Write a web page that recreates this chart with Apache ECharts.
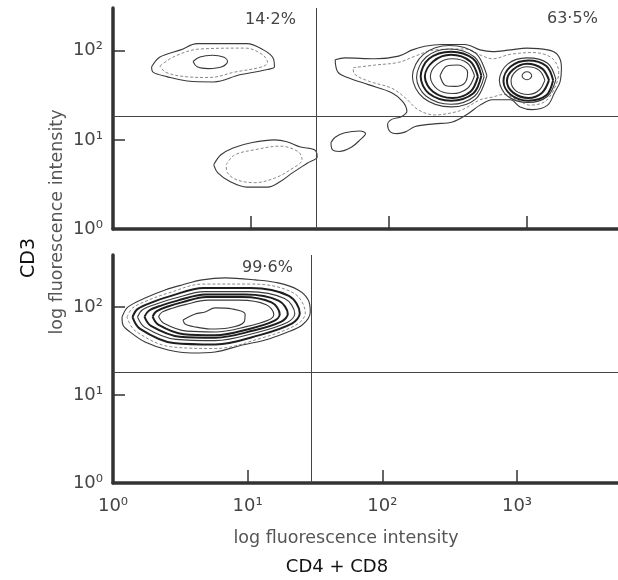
<!DOCTYPE html>
<html>
<head>
<meta charset="utf-8">
<script src="https://cdn.jsdelivr.net/npm/echarts@6/dist/echarts.min.js"></script>
<style>
  html, body { margin: 0; padding: 0; background: #fff; }
  #chart { width: 618px; height: 580px; }
</style>
</head>
<body>
<div id="chart"></div>
<script>
// every coordinate is in decades of log fluorescence (10^x)
const tickDecades = [0, 1, 2, 3]
const cd3Gate = 1.26      // horizontal cut, CD3
const cd48Gate = 1.47     // vertical cut, CD4 + CD8
const topPercents = ['14·2%', '63·5%']
const bottomPercents = ['99·6%']

// --- top panel: CD3-/+ thymocytes ---
const ulOuter = [[0.28,1.82],[0.34,1.93],[0.49,2.01],[0.61,2.08],[0.97,2.08],[1.09,2.01],[1.16,1.92],[1.17,1.82],[1.12,1.79],[0.92,1.73],[0.73,1.65],[0.54,1.66],[0.39,1.71],[0.29,1.76]]
const ulInner = [[0.34,1.83],[0.45,1.94],[0.63,2.02],[0.96,2.03],[1.08,1.96],[1.12,1.87],[1.08,1.82],[0.88,1.76],[0.70,1.70],[0.52,1.71],[0.38,1.76]]
const ulCore = [[0.58,1.88],[0.63,1.93],[0.72,1.95],[0.80,1.93],[0.83,1.88],[0.79,1.82],[0.69,1.80],[0.61,1.82]]

const llOuter = [[0.73,0.72],[0.78,0.83],[0.87,0.91],[1.01,0.97],[1.17,1.00],[1.26,0.98],[1.36,0.92],[1.46,0.89],[1.48,0.81],[1.41,0.74],[1.30,0.63],[1.21,0.53],[1.12,0.47],[0.97,0.47],[0.85,0.53],[0.76,0.63]]
const llInner = [[0.82,0.72],[0.88,0.83],[1.03,0.89],[1.21,0.93],[1.34,0.87],[1.37,0.78],[1.28,0.66],[1.17,0.57],[1.03,0.52],[0.90,0.55],[0.83,0.63]]
const lrSmall = [[1.58,0.97],[1.61,1.03],[1.68,1.08],[1.79,1.10],[1.83,1.07],[1.79,1.00],[1.73,0.92],[1.64,0.87],[1.59,0.89]]

const urOuter = [[1.61,1.90],[1.68,1.92],[1.90,1.91],[2.07,1.94],[2.17,2.01],[2.26,2.05],[2.38,2.07],[2.55,2.07],[2.66,2.01],[2.75,1.99],[2.88,2.01],[3.00,2.03],[3.15,2.01],[3.22,1.96],[3.25,1.82],[3.24,1.65],[3.20,1.53],[3.15,1.39],[3.04,1.34],[2.95,1.37],[2.88,1.45],[2.75,1.45],[2.66,1.39],[2.57,1.29],[2.46,1.20],[2.33,1.18],[2.19,1.15],[2.12,1.09],[2.06,1.07],[2.01,1.09],[1.99,1.17],[2.02,1.23],[2.09,1.26],[2.13,1.32],[2.10,1.43],[2.02,1.53],[1.85,1.62],[1.70,1.70],[1.63,1.76]]
const urInner = [[1.74,1.81],[1.90,1.84],[2.07,1.87],[2.19,1.94],[2.33,2.01],[2.55,2.02],[2.68,1.94],[2.75,1.91],[2.88,1.96],[3.04,1.98],[3.18,1.92],[3.23,1.76],[3.20,1.58],[3.13,1.43],[3.02,1.39],[2.93,1.45],[2.83,1.51],[2.75,1.48],[2.66,1.45],[2.57,1.37],[2.50,1.32],[2.33,1.28],[2.21,1.34],[2.12,1.47],[2.02,1.58],[1.85,1.66],[1.75,1.74]]

const cluster1A = [[2.71,1.72],[2.63,1.97],[2.44,2.06],[2.25,1.96],[2.17,1.71],[2.25,1.47],[2.45,1.37],[2.63,1.46]]
const cluster1B = [[2.69,1.71],[2.62,1.93],[2.44,2.02],[2.27,1.93],[2.20,1.70],[2.27,1.49],[2.45,1.40],[2.62,1.49]]
const cluster1C = [[2.67,1.72],[2.61,1.91],[2.45,1.99],[2.29,1.91],[2.23,1.71],[2.29,1.52],[2.45,1.44],[2.61,1.52]]
const cluster1D = [[2.645,1.71],[2.59,1.88],[2.45,1.955],[2.32,1.88],[2.26,1.71],[2.32,1.54],[2.46,1.47],[2.59,1.54]]
const cluster1E = [[2.62,1.72],[2.57,1.86],[2.46,1.91],[2.35,1.85],[2.30,1.71],[2.35,1.57],[2.46,1.52],[2.57,1.58]]
const cluster1Core = [[2.37,1.72],[2.42,1.83],[2.50,1.84],[2.57,1.76],[2.55,1.64],[2.48,1.60],[2.41,1.61]]

const cluster2A = [[3.21,1.68],[3.15,1.86],[3.00,1.92],[2.86,1.85],[2.80,1.67],[2.86,1.49],[3.01,1.42],[3.15,1.49]]
const cluster2B = [[3.19,1.67],[3.14,1.83],[3.01,1.89],[2.88,1.82],[2.83,1.66],[2.88,1.51],[3.01,1.44],[3.14,1.50]]
const cluster2C = [[3.16,1.67],[3.11,1.80],[3.00,1.855],[2.90,1.79],[2.855,1.66],[2.90,1.53],[3.01,1.47],[3.11,1.53]]
const cluster2D = [[3.13,1.67],[3.09,1.78],[3.00,1.82],[2.92,1.77],[2.885,1.66],[2.92,1.55],[3.01,1.51],[3.09,1.56]]
const cluster2Core = [[3.035,1.72],[3.025,1.75],[3.00,1.765],[2.975,1.75],[2.965,1.72],[2.975,1.69],[3.00,1.675],[3.025,1.69]]

// --- bottom panel: CD3+ population ---
const b1 = [[0.067,1.886],[0.112,2.000],[0.238,2.102],[0.387,2.193],[0.513,2.250],[0.662,2.307],[0.833,2.330],[1.056,2.307],[1.227,2.273],[1.375,2.193],[1.450,2.080],[1.465,1.943],[1.405,1.795],[1.279,1.705],[1.130,1.625],[0.959,1.568],[0.758,1.489],[0.587,1.477],[0.409,1.511],[0.238,1.602],[0.126,1.716],[0.074,1.795]]
const b2 = [[0.104,1.883],[0.144,1.986],[0.263,2.077],[0.409,2.157],[0.667,2.260],[1.037,2.260],[1.342,2.157],[1.428,1.932],[1.368,1.803],[1.110,1.650],[0.759,1.528],[0.428,1.548],[0.164,1.730]]
const b3 = [[0.145,1.885],[0.182,1.975],[0.294,2.055],[0.431,2.126],[0.673,2.216],[1.021,2.216],[1.306,2.126],[1.387,1.928],[1.331,1.814],[1.089,1.680],[0.760,1.573],[0.449,1.590],[0.201,1.751]]
const b4 = [[0.182,1.886],[0.217,1.965],[0.322,2.034],[0.451,2.095],[0.678,2.174],[1.005,2.174],[1.274,2.095],[1.350,1.924],[1.297,1.826],[1.070,1.710],[0.760,1.617],[0.468,1.631],[0.235,1.770]]
const b5 = [[0.234,1.888],[0.266,1.957],[0.362,2.018],[0.479,2.072],[0.686,2.141],[0.984,2.141],[1.229,2.072],[1.298,1.921],[1.250,1.834],[1.043,1.732],[0.761,1.650],[0.495,1.662],[0.282,1.785]]
const b6 = [[0.294,1.889],[0.322,1.950],[0.407,2.005],[0.511,2.052],[0.695,2.114],[0.960,2.114],[1.177,2.052],[1.238,1.918],[1.196,1.841],[1.011,1.750],[0.761,1.678],[0.525,1.689],[0.336,1.798]]
const b7 = [[0.338,1.890],[0.364,1.941],[0.441,1.986],[0.535,2.026],[0.702,2.077],[0.941,2.077],[1.138,2.026],[1.194,1.915],[1.155,1.851],[0.989,1.776],[0.762,1.716],[0.548,1.725],[0.377,1.815]]
const bCore = [[0.520,1.852],[0.610,1.920],[0.684,1.943],[0.758,1.989],[0.885,1.977],[0.981,1.920],[0.974,1.830],[0.855,1.761],[0.721,1.750],[0.610,1.773],[0.535,1.807]]

const thin = { color: '#3a3a3a', width: 1.1 }
const bold = { color: '#1e1e1e', width: 2 }
const dotted = { color: '#8a8a8a', width: 1, type: [3, 2] }

function contour(pts, style, panel) {
  return {
    type: 'line',
    xAxisIndex: panel,
    yAxisIndex: panel,
    data: pts.concat([pts[0]]),
    smooth: 0.35,
    showSymbol: false,
    silent: true,
    lineStyle: style
  }
}

function gates(panel) {
  return {
    type: 'line',
    xAxisIndex: panel,
    yAxisIndex: panel,
    data: [],
    markLine: {
      silent: true,
      symbol: 'none',
      label: { show: false },
      lineStyle: { color: '#444', width: 1, type: 'solid' },
      data: [{ yAxis: cd3Gate }, { xAxis: cd48Gate }]
    }
  }
}

// "10" with a raised exponent
const sup = ['⁰', '¹', '²', '³']
const pow = v => '10' + sup[v]
const tickFont = { fontSize: 18, color: '#444', fontFamily: 'DejaVu Sans' }

function xAxis(panel, max, labels) {
  return {
    type: 'value', gridIndex: panel, min: 0, max: max,
    axisLine: { onZero: false, lineStyle: { color: '#333', width: 3.5 } },
    axisTick: { show: true, inside: true, length: 13, customValues: [1, 2, 3], lineStyle: { color: '#333', width: 1.5 } },
    axisLabel: Object.assign({ show: labels, customValues: tickDecades, formatter: pow, margin: 14 }, tickFont),
    splitLine: { show: false }
  }
}

function yAxis(panel, max) {
  return {
    type: 'value', gridIndex: panel, min: 0, max: max,
    axisLine: { show: true, onZero: false, lineStyle: { color: '#333', width: 3.5 } },
    axisTick: { show: true, inside: true, length: 12, customValues: [1, 2], lineStyle: { color: '#333', width: 1.5 } },
    axisLabel: Object.assign({ customValues: [0, 1, 2], formatter: pow, margin: 10 }, tickFont),
    splitLine: { show: false }
  }
}

const pctStyle = { fontSize: 16, fill: '#444', fontFamily: 'DejaVu Sans' }
const nameStyle = { text: 'log fluorescence intensity', fontSize: 17.5, fill: '#555', fontFamily: 'DejaVu Sans', align: 'center', verticalAlign: 'middle' }

const chart = echarts.init(document.getElementById('chart'))
chart.setOption({
  animation: false,
  backgroundColor: '#fff',
  grid: [
    { left: 113, top: 8, right: 0, height: 221 },
    { left: 113, top: 255, right: 0, height: 228 }
  ],
  xAxis: [xAxis(0, 3.66, false), xAxis(1, 3.75, true)],
  yAxis: [yAxis(0, 2.48), yAxis(1, 2.59)],
  series: [
    gates(0),
    contour(ulOuter, thin, 0), contour(ulInner, dotted, 0), contour(ulCore, thin, 0),
    contour(llOuter, thin, 0), contour(llInner, dotted, 0), contour(lrSmall, thin, 0),
    contour(urOuter, thin, 0), contour(urInner, dotted, 0),
    contour(cluster1A, thin, 0), contour(cluster1B, thin, 0), contour(cluster1C, bold, 0),
    contour(cluster1D, bold, 0), contour(cluster1E, thin, 0), contour(cluster1Core, thin, 0),
    contour(cluster2A, thin, 0), contour(cluster2B, bold, 0), contour(cluster2C, bold, 0),
    contour(cluster2D, thin, 0), contour(cluster2Core, thin, 0),
    gates(1),
    contour(b1, thin, 1), contour(b2, dotted, 1), contour(b3, bold, 1), contour(b4, thin, 1),
    contour(b5, bold, 1), contour(b6, bold, 1), contour(b7, thin, 1), contour(bCore, thin, 1)
  ],
  graphic: [
    { type: 'text', left: 245, top: 12, style: Object.assign({ text: topPercents[0] }, pctStyle) },
    { type: 'text', left: 547, top: 11, style: Object.assign({ text: topPercents[1] }, pctStyle) },
    { type: 'text', left: 242, top: 260, style: Object.assign({ text: bottomPercents[0] }, pctStyle) },
    { type: 'text', x: 57, y: 222, rotation: Math.PI / 2, style: Object.assign({}, nameStyle) },
    { type: 'text', x: 29, y: 258, rotation: Math.PI / 2,
      style: { text: 'CD3', fontSize: 19, fill: '#111', fontFamily: 'DejaVu Sans', align: 'center', verticalAlign: 'middle' } },
    { type: 'text', x: 346, y: 538, style: Object.assign({}, nameStyle) },
    { type: 'text', x: 337, y: 567,
      style: { text: 'CD4 + CD8', fontSize: 18, fill: '#111', fontFamily: 'DejaVu Sans', align: 'center', verticalAlign: 'middle' } }
  ]
})
</script>
</body>
</html>
